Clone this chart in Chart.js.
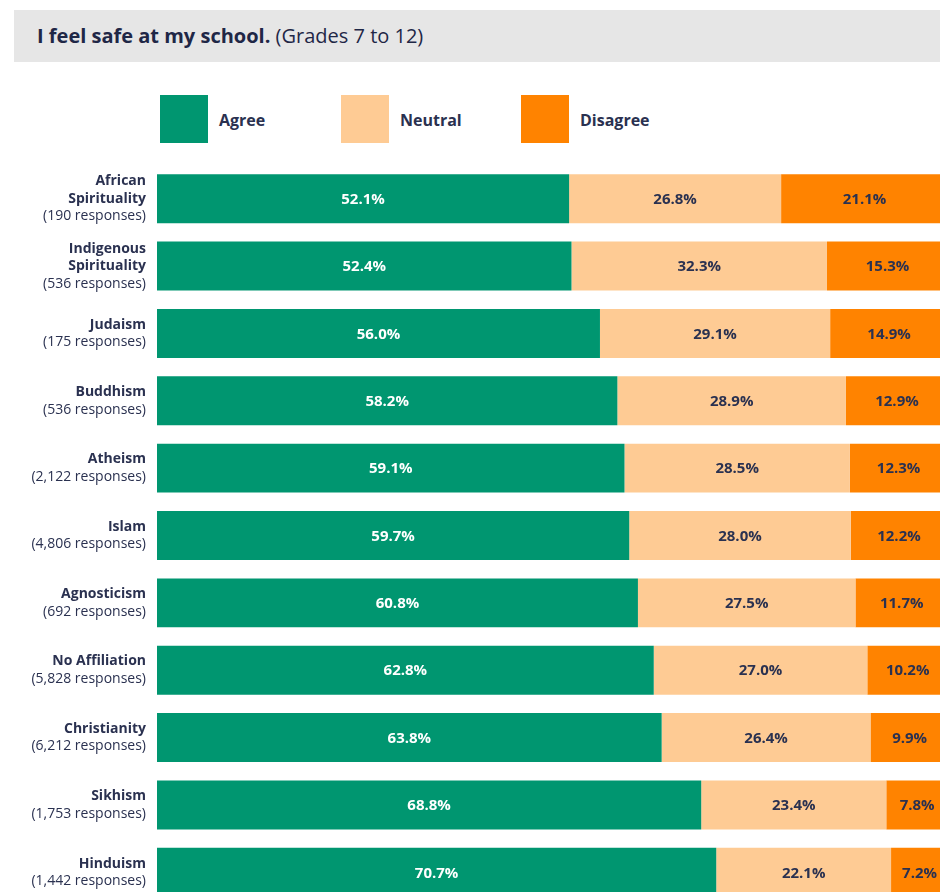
<!DOCTYPE html>
<html>
<head>
<meta charset="utf-8">
<script src="https://cdn.jsdelivr.net/npm/chart.js@4/dist/chart.umd.min.js"></script>
<style>
  html, body { margin: 0; padding: 0; background: #fff; }
  body { width: 940px; height: 892px; overflow: hidden; position: relative; font-family: "Open Sans", sans-serif; color: #1f2746; }
  #title { position: absolute; left: 14px; top: 10px; width: 940px; height: 52px; background: #e6e6e6; }
  #title span { position: absolute; left: 23px; top: 13px; font-size: 20px; line-height: 26px; white-space: nowrap; }
  #title b { font-weight: 700; }
  #legend { position: absolute; top: 95px; left: 0; width: 940px; height: 48px; }
  .item { position: absolute; top: 0; height: 48px; }
  .item i { position: absolute; left: 0; top: 0; width: 48px; height: 48px; }
  .item span { position: absolute; left: 59px; top: 14px; font-size: 16px; font-weight: 700; white-space: nowrap; color: #2a3150; }
  #wrap { position: absolute; left: 0; top: 150px; width: 948px; height: 760px; }
</style>
</head>
<body>
<div id="title"><span><b>I feel safe at my school.</b> (Grades 7 to 12)</span></div>
<div id="legend"></div>
<div id="wrap"><canvas id="chart" width="948" height="760"></canvas></div>
<script>
const categories = ['African Spirituality', 'Indigenous Spirituality', 'Judaism', 'Buddhism', 'Atheism', 'Islam',
  'Agnosticism', 'No Affiliation', 'Christianity', 'Sikhism', 'Hinduism'];
const responses = [190, 536, 175, 536, 2122, 4806, 692, 5828, 6212, 1753, 1442];
const agree = [52.1, 52.4, 56.0, 58.2, 59.1, 59.7, 60.8, 62.8, 63.8, 68.8, 70.7];
const neutral = [26.8, 32.3, 29.1, 28.9, 28.5, 28.0, 27.5, 27.0, 26.4, 23.4, 22.1];
const disagree = [21.1, 15.3, 14.9, 12.9, 12.3, 12.2, 11.7, 10.2, 9.9, 7.8, 7.2];

const seriesNames = ['Agree', 'Neutral', 'Disagree'];
const seriesColors = ['#009670', '#fecb94', '#ff8300'];
const valueColors = ['#ffffff', '#2a3150', '#2a3150'];
const legendLeft = [160, 341, 521];

const FONT = '"Open Sans", sans-serif';
const INK = '#2a3150';

// legend boxes sit at fixed columns above the bars
const legend = document.getElementById('legend');
seriesNames.forEach((name, i) => {
  const el = document.createElement('div');
  el.className = 'item';
  el.style.left = legendLeft[i] + 'px';
  el.innerHTML = `<i style="background:${seriesColors[i]}"></i><span>${name}</span>`;
  legend.appendChild(el);
});

// writes the percentage in the middle of every segment
const segmentValues = {
  id: 'segmentValues',
  afterDatasetsDraw(chart) {
    const ctx = chart.ctx;
    ctx.save();
    ctx.font = `700 15px ${FONT}`;
    ctx.textAlign = 'center';
    ctx.textBaseline = 'middle';
    chart.data.datasets.forEach((ds, d) => {
      ctx.fillStyle = valueColors[d];
      chart.getDatasetMeta(d).data.forEach((bar, i) => {
        const x = (bar.x + bar.base) / 2;
        ctx.fillText(ds.data[i].toFixed(1) + '%', x, bar.y + 1);
      });
    });
    ctx.restore();
  }
};

// category names (bold, wrapped) with the response count underneath
const categoryLabels = {
  id: 'categoryLabels',
  afterDraw(chart) {
    const ctx = chart.ctx;
    const y = chart.scales.y;
    const right = y.right - 11;
    const lh = 17.5;
    ctx.save();
    ctx.textAlign = 'right';
    ctx.textBaseline = 'middle';
    categories.forEach((name, i) => {
      ctx.font = `700 14px ${FONT}`;
      const lines = [];
      let cur = '';
      name.split(' ').forEach(w => {
        const t = cur ? cur + ' ' + w : w;
        if (cur && ctx.measureText(t).width > 120) { lines.push(cur); cur = w; } else cur = t;
      });
      lines.push(cur);
      const total = lines.length + 1;
      const cy = y.getPixelForTick(i);
      let ty = cy - (total - 1) * lh / 2;
      ctx.fillStyle = INK;
      lines.forEach(l => { ctx.fillText(l, right, ty); ty += lh; });
      ctx.font = `400 14px ${FONT}`;
      ctx.fillText(`(${responses[i].toLocaleString('en-US')} responses)`, right, ty);
    });
    ctx.restore();
  }
};

new Chart(document.getElementById('chart'), {
  type: 'bar',
  data: {
    labels: categories,
    datasets: [agree, neutral, disagree].map((values, i) => ({
      label: seriesNames[i],
      data: values,
      backgroundColor: seriesColors[i],
      borderWidth: 0,
      categoryPercentage: 1,
      barPercentage: 0.727
    }))
  },
  options: {
    indexAxis: 'y',
    responsive: false,
    animation: false,
    devicePixelRatio: 1,
    layout: { padding: { top: 15, bottom: 4, left: 0, right: 0 } },
    plugins: { legend: { display: false }, tooltip: { enabled: false } },
    scales: {
      x: { stacked: true, min: 0, max: 100, display: false },
      y: {
        stacked: true,
        grid: { display: false },
        border: { display: false },
        ticks: { display: false },
        afterFit(scale) { scale.width = 157; }
      }
    }
  },
  plugins: [segmentValues, categoryLabels]
});
</script>
</body>
</html>
